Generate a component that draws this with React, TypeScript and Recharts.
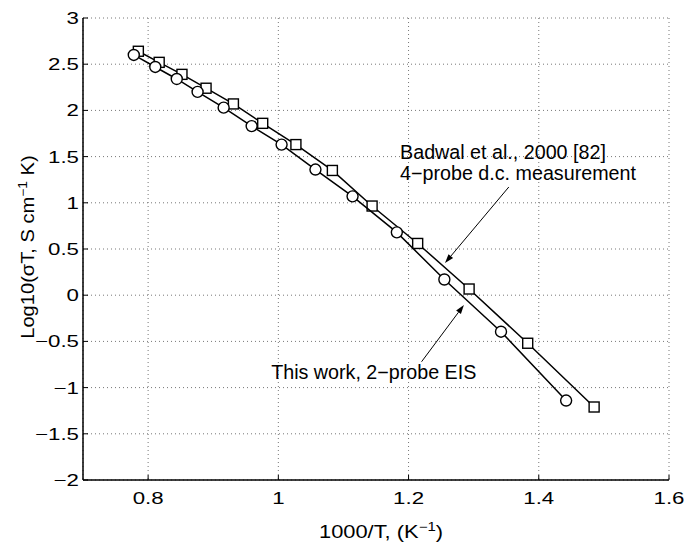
import {
  ScatterChart,
  Scatter,
  XAxis,
  YAxis,
  CartesianGrid,
  ReferenceLine,
  ReferenceDot,
} from "recharts";

const FONT = '"Liberation Sans", Arial, Helvetica, sans-serif';

const xTicks = [0.8, 1, 1.2, 1.4, 1.6];
const yTicks = [-2, -1.5, -1, -0.5, 0, 0.5, 1, 1.5, 2, 2.5, 3];

// this work, 2-probe EIS (circles)
const thisWorkX = [0.778, 0.811, 0.844, 0.876, 0.916, 0.959, 1.005, 1.057, 1.114, 1.182, 1.255, 1.342, 1.442];
const thisWorkY = [2.6, 2.47, 2.34, 2.2, 2.03, 1.83, 1.63, 1.36, 1.07, 0.68, 0.17, -0.395, -1.14];

// Badwal et al. 2000, 4-probe d.c. (squares)
const badwalX = [0.785, 0.817, 0.852, 0.889, 0.931, 0.976, 1.027, 1.083, 1.144, 1.214, 1.293, 1.383, 1.485];
const badwalY = [2.64, 2.52, 2.39, 2.24, 2.07, 1.86, 1.63, 1.35, 0.965, 0.56, 0.067, -0.52, -1.21];

// annotation texts and where they sit (data units, text baseline-left)
const noteTexts = ["Badwal et al., 2000 [82]", "4\u2212probe d.c. measurement", "This work, 2\u2212probe EIS"];
const noteX = [1.187, 1.187, 0.989];
const noteY = [1.474, 1.252, -0.907];

// arrows: [from, to] in data units
const arrowBadwal = [
  { x: 1.354, y: 1.171 },
  { x: 1.256, y: 0.348 },
];
const arrowThisWork = [
  { x: 1.22, y: -0.72 },
  { x: 1.285, y: -0.106 },
];

const thisWork = thisWorkX.map((x, i) => ({ x, y: thisWorkY[i] }));
const badwal = badwalX.map((x, i) => ({ x, y: badwalY[i] }));

const fmt = (v: number) => (v < 0 ? "\u2212" + Math.abs(v) : String(v));

const tickStyle = { fontFamily: FONT, fontSize: 16.5, fill: "#000" };
const noteStyle = { fontFamily: FONT, fontSize: 19.7, fill: "#000" };
const labelStyle = { fontFamily: FONT, fontSize: 17.5, fill: "#000" };

function BottomTick({ x, y, payload }: any) {
  return (
    <g>
      <line x1={x} y1={y} x2={x} y2={y - 5} stroke="#000" />
      <text transform={`translate(${x} ${y + 24}) scale(1.35 1)`} textAnchor="middle" {...tickStyle}>
        {fmt(payload.value)}
      </text>
    </g>
  );
}

function TopTick({ x, y }: any) {
  return <line x1={x} y1={y} x2={x} y2={y + 5} stroke="#000" />;
}

function LeftTick({ x, y, payload }: any) {
  return (
    <g>
      <line x1={x} y1={y} x2={x + 5} y2={y} stroke="#000" />
      <text transform={`translate(${x - 4} ${y + 6}) scale(1.35 1)`} textAnchor="end" {...tickStyle}>
        {fmt(payload.value)}
      </text>
    </g>
  );
}

function RightTick({ x, y }: any) {
  return <line x1={x} y1={y} x2={x - 5} y2={y} stroke="#000" />;
}

function CircleMark({ cx, cy }: any) {
  return <circle cx={cx} cy={cy} r={5.5} fill="#fff" stroke="#000" strokeWidth={1.4} />;
}

function SquareMark({ cx, cy }: any) {
  return <rect x={cx - 5} y={cy - 5} width={10} height={10} fill="#fff" stroke="#000" strokeWidth={1.4} />;
}

function Arrow({ x1, y1, x2, y2 }: any) {
  const ang = Math.atan2(y2 - y1, x2 - x1);
  const len = 9;
  const half = 3;
  const bx = x2 - len * Math.cos(ang);
  const by = y2 - len * Math.sin(ang);
  const px = -Math.sin(ang) * half;
  const py = Math.cos(ang) * half;
  return (
    <g>
      <line x1={x1} y1={y1} x2={bx} y2={by} stroke="#000" strokeWidth={1} />
      <polygon points={`${x2},${y2} ${bx + px},${by + py} ${bx - px},${by - py}`} fill="#000" />
    </g>
  );
}

function NoteText(text: string) {
  return ({ cx, cy }: any) => (
    <text x={cx} y={cy} {...noteStyle}>
      {text}
    </text>
  );
}

export default function App() {
  const axisLine = { stroke: "#000", strokeWidth: 1.5 };
  return (
    <div style={{ position: "absolute", left: 0, top: 0, background: "#fff" }}>
      <ScatterChart width={686} height={543} margin={{ top: 18, right: 17, bottom: 0, left: 0 }}>
        <CartesianGrid stroke="#777" strokeDasharray="1 3" />
        <XAxis
          type="number"
          dataKey="x"
          domain={[0.7, 1.6]}
          ticks={xTicks}
          interval={0}
          allowDataOverflow
          height={63}
          tickSize={0}
          tickMargin={0}
          tickLine={false}
          axisLine={axisLine}
          tick={<BottomTick />}
        />
        <XAxis
          xAxisId="top"
          orientation="top"
          type="number"
          domain={[0.7, 1.6]}
          ticks={xTicks}
          interval={0}
          allowDataOverflow
          height={0}
          tickSize={0}
          tickMargin={0}
          tickLine={false}
          axisLine={axisLine}
          tick={<TopTick />}
        />
        <YAxis
          type="number"
          dataKey="y"
          domain={[-2, 3]}
          ticks={yTicks}
          interval={0}
          allowDataOverflow
          width={83}
          tickSize={0}
          tickMargin={0}
          tickLine={false}
          axisLine={axisLine}
          tick={<LeftTick />}
        />
        <YAxis
          yAxisId="right"
          orientation="right"
          type="number"
          domain={[-2, 3]}
          ticks={yTicks}
          interval={0}
          allowDataOverflow
          width={0}
          tickSize={0}
          tickMargin={0}
          tickLine={false}
          axisLine={axisLine}
          tick={<RightTick />}
        />
        <Scatter
          data={badwal}
          line={{ stroke: "#000", strokeWidth: 1.5 }}
          shape={SquareMark}
          isAnimationActive={false}
        />
        <Scatter
          data={thisWork}
          line={{ stroke: "#000", strokeWidth: 1.5 }}
          shape={CircleMark}
          isAnimationActive={false}
        />
        <ReferenceLine segment={arrowBadwal} shape={Arrow} ifOverflow="visible" />
        <ReferenceLine segment={arrowThisWork} shape={Arrow} ifOverflow="visible" />
        {noteTexts.map((t, i) => (
          <ReferenceDot key={t} x={noteX[i]} y={noteY[i]} r={0} shape={NoteText(t)} ifOverflow="visible" />
        ))}
        <text transform="translate(381 538) scale(1.25 1)" textAnchor="middle" {...labelStyle}>
          1000/T, (K
          <tspan dy={-7} fontSize={12}>
            {"\u22121"}
          </tspan>
          <tspan dy={7}>)</tspan>
        </text>
        <text transform="translate(33.5 247) rotate(-90) scale(1.15 1)" textAnchor="middle" {...labelStyle}>
          Log10(σT, S cm
          <tspan dy={-7} fontSize={12}>
            {"\u22121"}
          </tspan>
          <tspan dy={7}> K)</tspan>
        </text>
      </ScatterChart>
    </div>
  );
}
